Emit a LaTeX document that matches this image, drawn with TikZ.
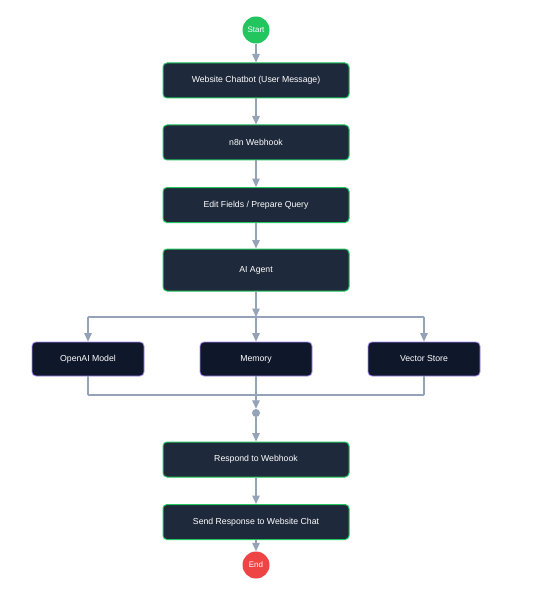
\documentclass[tikz,border=0pt]{standalone}
\usepackage{fontspec}
\setmainfont{Liberation Sans}
\usetikzlibrary{arrows.meta,positioning}
\definecolor{flowbox}{HTML}{1E293B}
\definecolor{toolbox}{HTML}{0F172A}
\definecolor{flowgreen}{HTML}{22C55E}
\definecolor{toolpurple}{HTML}{A78BFA}
\definecolor{flowred}{HTML}{EF4444}
\definecolor{linegray}{HTML}{94A3B8}

\begin{document}
\begin{tikzpicture}[x=1pt,y=-1pt,
    stepbox/.style={draw=flowgreen,fill=flowbox,rounded corners=4pt,line width=1pt,
      minimum width=186pt,minimum height=35pt,text=white,
      font=\fontsize{8.7}{10}\selectfont},
    toolnode/.style={stepbox,draw=toolpurple,fill=toolbox,minimum width=112pt,
      minimum height=34pt,line width=0.8pt},
    term/.style={circle,minimum size=27pt,inner sep=0pt,text=white,
      font=\fontsize{8}{9}\selectfont},
    wire/.style={linegray,line width=1.3pt},
    flow/.style={wire,-{Triangle[width=7.5pt,length=8.5pt]}}]
  \path[fill=white,use as bounding box] (0,0) rectangle (539,596);

  % main chain
  \node[term,fill=flowgreen] (start) at (256,30) {Start};
  \node[stepbox] (chat) at (256,80.5) {Website Chatbot (User Message)};
  \node[stepbox] (hook) at (256,142.5) {n8n Webhook};
  \node[stepbox] (edit) at (256,205) {Edit Fields / Prepare Query};
  \node[stepbox,minimum height=42pt] (agent) at (256,270) {AI Agent};

  % tools
  \coordinate (split) at (256,317);
  \node[toolnode] (model) at (88,359) {OpenAI Model};
  \node[toolnode] (memory) at (256,359) {Memory};
  \node[toolnode] (store) at (424,359) {Vector Store};
  \coordinate (merge) at (256,395);
  \node[circle,fill=linegray,minimum size=8pt,inner sep=0pt] (joint) at (256,413) {};

  % response
  \node[stepbox] (respond) at (256,459.5) {Respond to Webhook};
  \node[stepbox] (send) at (256,522) {Send Response to Website Chat};
  \node[term,fill=flowred] (end) at (256,565) {End};

  \draw[flow] (start) -- (chat);
  \draw[flow] (chat) -- (hook);
  \draw[flow] (hook) -- (edit);
  \draw[flow] (edit) -- (agent);
  \draw[flow] (agent) -- (split);
  \draw[wire] (model.north |- split) -- (store.north |- split);
  \foreach \t in {model,memory,store}
    \draw[flow] (\t.north |- split) -- (\t);
  \foreach \t in {model,memory,store}
    \draw[wire] (\t) -- (\t.south |- merge);
  \draw[wire] (model.south |- merge) -- (store.south |- merge);
  \draw[flow] (merge) -- (joint);
  \draw[flow] (joint) -- (respond);
  \draw[flow] (respond) -- (send);
  \draw[flow] (send) -- (end);
\end{tikzpicture}
\end{document}
